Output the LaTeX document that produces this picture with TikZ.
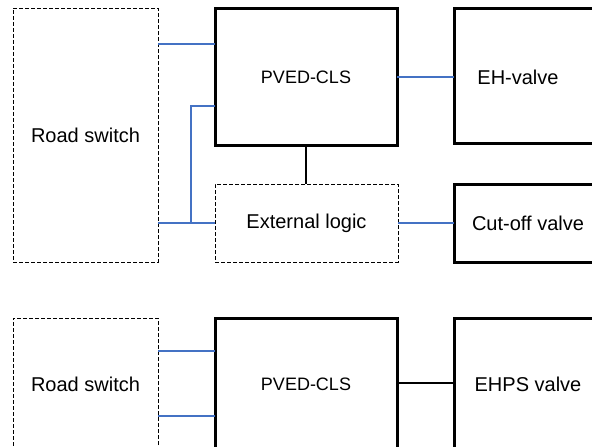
\documentclass[tikz,border=0pt]{standalone}
\usepackage{fontspec}
\setmainfont{Liberation Sans}
\definecolor{lineblue}{RGB}{68,114,196}
\tikzset{
  thickbox/.style={draw=black, line width=3pt, inner sep=0pt, outer sep=0pt, anchor=north west},
  dashbox/.style={draw=black, line width=0.8pt, dash pattern=on 4pt off 2pt, inner sep=0pt, outer sep=0pt, anchor=north west},
  bluewire/.style={draw=lineblue, line width=1.2pt},
  blackwire/.style={draw=black, line width=1.1pt},
  txt/.style={inner sep=0pt, font=\fontsize{20}{24}\selectfont},
  smalltxt/.style={inner sep=0pt, font=\fontsize{18}{22}\selectfont}
}
\begin{document}
\begin{tikzpicture}[x=1pt,y=-1pt]
\useasboundingbox (0,0) rectangle (592,447);
\clip (0,0) rectangle (592,447);
\fill[white] (0,0) rectangle (592,447);
% top diagram
\node[dashbox, minimum width=145pt, minimum height=254pt] (rs1) at (13,8) {};
\node[thickbox, minimum width=182pt, minimum height=137pt] (pved1) at (215,8) {};
\node[thickbox, minimum width=160pt, minimum height=135pt] (eh) at (454,8) {};
\node[dashbox, minimum width=183pt, minimum height=78pt] (ext) at (215,184) {};
\node[thickbox, minimum width=160pt, minimum height=78pt] (cut) at (454,184) {};
\node[txt] (t1) at (85.5,135) {Road switch};
\node[smalltxt] (t2) at (306,77) {PVED-CLS};
\node[txt] (t3) at (518,77) {EH-valve};
\node[txt] (t4) at (306.5,223) {External logic};
\node[txt] (t5) at (528,223) {Cut-off valve};
\coordinate (ya) at (0,44);
\coordinate (yb) at (0,106);
\coordinate (yc) at (0,223);
\coordinate (yd) at (0,77);
\coordinate (xa) at (191,0);
\coordinate (xb) at (306,0);
\draw[bluewire] (rs1.east |- ya) -- (pved1.west |- ya);
\draw[bluewire] (pved1.west |- yb) -- (xa |- yb) -- (xa |- yc);
\draw[bluewire] (rs1.east |- yc) -- (ext.west |- yc);
\draw[bluewire] (pved1.east |- yd) -- (eh.west |- yd);
\draw[blackwire] (pved1.south -| xb) -- (ext.north -| xb);
\draw[bluewire] (ext.east |- yc) -- (cut.west |- yc);
% bottom diagram
\node[dashbox, minimum width=145pt, minimum height=150pt] (rs2) at (13,318) {};
\node[thickbox, minimum width=182pt, minimum height=150pt] (pved2) at (215,318) {};
\node[thickbox, minimum width=160pt, minimum height=150pt] (ehps) at (454,318) {};
\node[txt] (b1) at (85.5,384) {Road switch};
\node[smalltxt] (b2) at (306,384) {PVED-CLS};
\node[txt] (b3) at (528,384) {EHPS valve};
\coordinate (ye) at (0,351);
\coordinate (yf) at (0,416);
\coordinate (yg) at (0,383);
\draw[bluewire] (rs2.east |- ye) -- (pved2.west |- ye);
\draw[bluewire] (rs2.east |- yf) -- (pved2.west |- yf);
\draw[blackwire] (pved2.east |- yg) -- (ehps.west |- yg);
\end{tikzpicture}
\end{document}
